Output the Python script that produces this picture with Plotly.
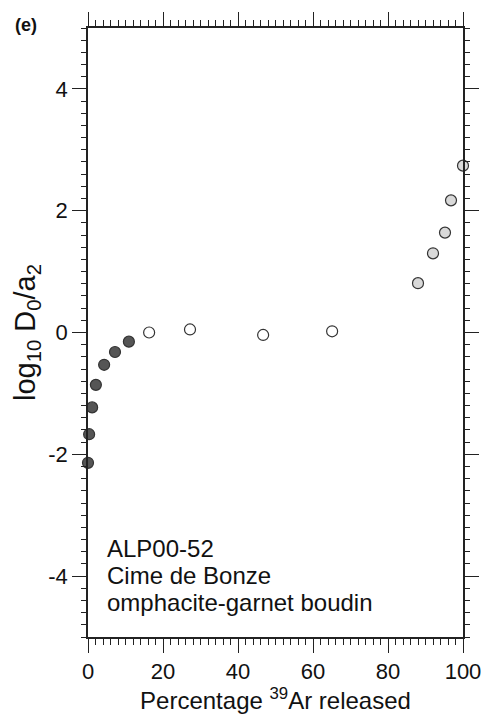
import plotly.graph_objects as go

# Data
dark_x = [0.0, 0.3, 1.1, 2.1, 4.3, 7.2, 10.9]
dark_y = [-2.14, -1.67, -1.23, -0.86, -0.53, -0.32, -0.15]
open_x = [16.3, 27.2, 46.7, 65.1]
open_y = [0.0, 0.05, -0.04, 0.02]
light_x = [88.0, 92.0, 95.2, 96.8, 100.0]
light_y = [0.81, 1.30, 1.64, 2.17, 2.74]

x_major = [0, 20, 40, 60, 80, 100]
x_mid = [10, 30, 50, 70, 90]
y_major = [-4, -2, 0, 2, 4]
y_mid = [-5, -3, -1, 1, 3, 5]

label_lines = ["ALP00-52", "Cime de Bonze", "omphacite-garnet boudin"]

FONT = "Liberation Sans, Arial, sans-serif"
LINE = "#222222"

fig = go.Figure()

def add(xs, ys, fill):
    fig.add_trace(go.Scatter(
        x=xs, y=ys, mode="markers",
        marker=dict(size=11, color=fill, line=dict(color="#333333", width=1.2)),
        showlegend=False, cliponaxis=False))

add(dark_x, dark_y, "#555555")
add(open_x, open_y, "#ffffff")
add(light_x, light_y, "#d9d9d9")

common_x = dict(range=[0, 100], showgrid=False, zeroline=False)
common_y = dict(range=[-5, 5], showgrid=False, zeroline=False)

annotations = []
for i, line in enumerate(label_lines):
    annotations.append(dict(text=line, xref="paper", yref="paper",
                            x=0.045, y=(640 - 550 - 27.5 * i) / 616, xanchor="left", yanchor="middle",
                            align="left", showarrow=False,
                            font=dict(size=24, family=FONT, color="#111111")))
annotations.append(dict(text="<b>(e)</b>", xref="paper", yref="paper", x=-0.2, y=1.005,
                        xanchor="left", yanchor="middle", showarrow=False,
                        font=dict(size=18, family=FONT, color="#111111")))

fig.update_layout(
    width=497, height=715,
    margin=dict(l=88, r=34, t=24, b=75),
    plot_bgcolor="white", paper_bgcolor="white",
    font=dict(family=FONT, color="#111111"),
    xaxis=dict(**common_x, tickvals=x_major, ticks="outside", ticklen=14, tickwidth=1.2,
               tickcolor=LINE, showline=True, linecolor=LINE, linewidth=1.5,
               mirror="allticks", tickfont=dict(size=22, family=FONT),
               minor=dict(dtick=2, ticks="outside", ticklen=6, tickcolor=LINE, tickwidth=1),
               title=dict(text="Percentage <sup>39</sup>Ar released", font=dict(size=24, family=FONT), standoff=2)),
    xaxis2=dict(**common_x, overlaying="x", anchor="y", side="bottom", tickvals=x_mid,
                ticks="outside", ticklen=10, tickwidth=1.2, tickcolor=LINE,
                showticklabels=False, showline=False),
    xaxis3=dict(**common_x, overlaying="x", anchor="y", side="top", tickvals=x_mid,
                ticks="outside", ticklen=10, tickwidth=1.2, tickcolor=LINE,
                showticklabels=False, showline=False),
    yaxis=dict(**common_y, tickvals=y_major, ticktext=[str(v) for v in y_major], ticks="outside",
               ticklen=14, tickwidth=1.2, tickcolor=LINE, showline=True, linecolor=LINE, linewidth=1.5,
               mirror="allticks", tickfont=dict(size=22, family=FONT),
               minor=dict(dtick=0.2, ticks="outside", ticklen=5, tickcolor=LINE, tickwidth=1),
               title=dict(text="log<sub>10</sub> D<sub>0</sub>/a<sub>2</sub>", font=dict(size=29, family=FONT), standoff=4)),
    yaxis2=dict(**common_y, overlaying="y", anchor="x", side="left", tickvals=y_mid,
                ticks="outside", ticklen=10, tickwidth=1.2, tickcolor=LINE,
                showticklabels=False, showline=False),
    yaxis3=dict(**common_y, overlaying="y", anchor="x", side="right", tickvals=y_mid,
                ticks="outside", ticklen=10, tickwidth=1.2, tickcolor=LINE,
                showticklabels=False, showline=False),
    annotations=annotations,
)

fig.write_html("out.html")
